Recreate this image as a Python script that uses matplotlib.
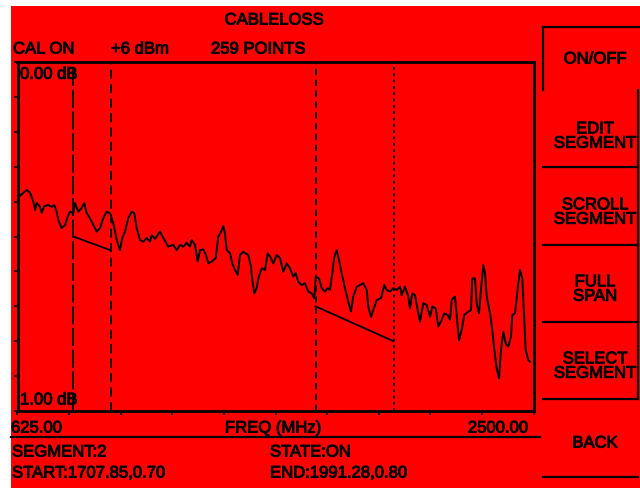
import matplotlib
matplotlib.use("Agg")
import matplotlib.pyplot as plt
from matplotlib.lines import Line2D
from matplotlib.patches import Rectangle
import matplotlib.patheffects as pe

plt.rcParams['font.family'] = ['Liberation Sans', 'DejaVu Sans']

# ---------------- data ----------------
freq_mhz = [627.9, 634.1, 646.1, 658.4, 670.4, 682.4, 688.6, 694.8, 706.8, 712.9,
            722.4, 736.9, 749.3, 758.7, 767.4, 773.3, 785.6, 797.6, 807.4, 815.8,
            827.8, 833.9, 845.9, 858.3, 867.7, 876.5, 884.8, 896.8, 912.8, 924.8,
            936.8, 949.1, 961.1, 973.1, 985.5, 997.5, 1005.8, 1015.6, 1027.6, 1040.0,
            1049.4, 1058.1, 1070.1, 1082.1, 1094.5, 1106.5, 1112.6, 1124.6, 1142.8, 1154.8,
            1173.0, 1191.1, 1203.5, 1215.5, 1227.5, 1239.8, 1251.8, 1258.0, 1270.0, 1279.8,
            1288.2, 1300.2, 1310.0, 1318.3, 1330.7, 1345.2, 1354.6, 1364.5, 1372.8, 1379.0,
            1385.2, 1397.2, 1405.5, 1415.3, 1425.2, 1433.5, 1445.5, 1463.7, 1473.5, 1478.2,
            1485.5, 1494.2, 1500.0, 1512.4, 1524.3, 1534.2, 1546.2, 1554.5, 1566.9, 1578.8,
            1590.8, 1603.2, 1615.2, 1627.2, 1635.9, 1645.4, 1657.7, 1669.7, 1681.7, 1694.0,
            1703.5, 1708.6, 1720.6, 1730.4, 1742.4, 1752.2, 1760.5, 1768.9, 1776.2, 1784.9,
            1793.2, 1803.0, 1815.0, 1827.0, 1836.8, 1845.2, 1857.6, 1869.5, 1881.5, 1893.9,
            1899.7, 1909.5, 1917.9, 1930.2, 1945.9, 1957.8, 1966.6, 1978.6, 1990.6, 2002.9,
            2014.9, 2021.1, 2033.1, 2045.1, 2051.2, 2059.6, 2069.4, 2079.2, 2087.6, 2099.6,
            2111.9, 2123.9, 2132.3, 2144.6, 2154.1, 2163.9, 2175.9, 2188.2, 2196.6, 2202.8,
            2214.7, 2220.9, 2229.3, 2239.1, 2248.5, 2263.1, 2272.9, 2277.6, 2287.4, 2293.6,
            2301.9, 2309.2, 2317.6, 2323.8, 2330.0, 2342.0, 2350.3, 2357.6, 2366.3, 2374.6,
            2381.9, 2390.3, 2399.0, 2408.4, 2418.2, 2423.0, 2432.8, 2444.8, 2450.9, 2459.3,
            2466.6, 2471.6, 2481.1, 2487.3]
loss_db = [0.369, 0.384, 0.375, 0.367, 0.374, 0.400, 0.424, 0.404, 0.415, 0.432,
           0.413, 0.410, 0.415, 0.410, 0.429, 0.453, 0.476, 0.467, 0.443, 0.429,
           0.433, 0.404, 0.429, 0.418, 0.404, 0.433, 0.443, 0.461, 0.486, 0.476,
           0.447, 0.429, 0.433, 0.461, 0.510, 0.539, 0.504, 0.486, 0.447, 0.429,
           0.433, 0.476, 0.510, 0.515, 0.504, 0.515, 0.496, 0.507, 0.486, 0.504,
           0.529, 0.524, 0.539, 0.524, 0.529, 0.518, 0.529, 0.510, 0.524, 0.572,
           0.539, 0.537, 0.553, 0.577, 0.572, 0.562, 0.501, 0.486, 0.470, 0.491,
           0.539, 0.548, 0.577, 0.596, 0.610, 0.553, 0.544, 0.553, 0.587, 0.625,
           0.663, 0.648, 0.620, 0.591, 0.596, 0.548, 0.562, 0.577, 0.553, 0.562,
           0.601, 0.577, 0.591, 0.615, 0.605, 0.630, 0.639, 0.634, 0.658, 0.663,
           0.677, 0.615, 0.620, 0.648, 0.658, 0.648, 0.653, 0.605, 0.558, 0.539,
           0.567, 0.605, 0.648, 0.687, 0.715, 0.672, 0.644, 0.639, 0.634, 0.653,
           0.701, 0.730, 0.711, 0.682, 0.677, 0.639, 0.653, 0.658, 0.648, 0.653,
           0.644, 0.668, 0.644, 0.672, 0.706, 0.663, 0.668, 0.711, 0.744, 0.691,
           0.696, 0.730, 0.701, 0.706, 0.758, 0.744, 0.720, 0.725, 0.739, 0.682,
           0.672, 0.725, 0.797, 0.768, 0.725, 0.715, 0.711, 0.620, 0.620, 0.691,
           0.720, 0.653, 0.582, 0.605, 0.672, 0.720, 0.768, 0.825, 0.878, 0.906,
           0.825, 0.773, 0.806, 0.816, 0.787, 0.725, 0.720, 0.634, 0.596, 0.620,
           0.739, 0.825, 0.854, 0.859]

# calibration segments: (start MHz, start dB, end MHz, end dB)
seg_start_mhz = [828.0, 1707.85]
seg_start_db = [0.50, 0.70]
seg_end_mhz = [965.0, 1991.28]
seg_end_db = [0.54, 0.80]

freq_min, freq_max = 625.0, 2500.0
db_top, db_bottom = 0.0, 1.0

buttons = ["ON/OFF", "EDIT\nSEGMENT", "SCROLL\nSEGMENT", "FULL\nSPAN", "SELECT\nSEGMENT", "BACK"]

# ---------------- figure ----------------
W, H = 640, 488
fig = plt.figure(figsize=(W / 100, H / 100), dpi=100, facecolor='white')
RED = '#ff0000'
bold_fx = [pe.withStroke(linewidth=0.7, foreground='black')]


def fx(px):
    return px / W


def fy(py):
    return 1 - py / H


fig.add_artist(Rectangle((fx(11), 0), 1 - fx(11), fy(6), transform=fig.transFigure,
                         facecolor=RED, edgecolor='none', zorder=0))


def hline(x0, x1, y, lw=1.6):
    fig.add_artist(Line2D([fx(x0), fx(x1)], [fy(y), fy(y)], color='black', lw=lw,
                          transform=fig.transFigure))


def vline(x, y0, y1, lw=1.6):
    fig.add_artist(Line2D([fx(x), fx(x)], [fy(y0), fy(y1)], color='black', lw=lw,
                          transform=fig.transFigure))


def ftext(x, y, s, ha='left', **kw):
    fig.text(fx(x), fy(y), s, fontsize=12, ha=ha, va='center', path_effects=bold_fx, **kw)


ax_l, ax_r, ax_t, ax_b = 17.5, 533.5, 62, 411
ax = fig.add_axes([fx(ax_l), fy(ax_b), fx(ax_r) - fx(ax_l), fy(ax_t) - fy(ax_b)])
ax.set_facecolor(RED)
ax.set_xlim(freq_min, freq_max)
ax.set_ylim(db_bottom, db_top)
for s in ax.spines.values():
    s.set_linewidth(2.0)
    s.set_color('black')
ax.set_xticks([freq_min + k * (freq_max - freq_min) / 10 for k in range(11)])
ax.set_yticks([k / 10 for k in range(11)])
ax.tick_params(axis='both', direction='out', length=3, width=1.2, color='black',
               labelbottom=False, labelleft=False)

# trace
ax.plot(freq_mhz, loss_db, color='black', lw=1.4, zorder=3)

# segment boundary markers
ax.axvline(seg_start_mhz[0], color='black', lw=1.3, dashes=(10, 2))
ax.axvline(seg_end_mhz[0], color='black', lw=1.3, dashes=(5, 3))
ax.axvline(seg_start_mhz[1], color='black', lw=1.3, dashes=(3.5, 2.5))
ax.axvline(seg_end_mhz[1], color='black', lw=1.3, dashes=(1.5, 2))
for i in range(len(seg_start_mhz)):
    ax.plot([seg_start_mhz[i], seg_end_mhz[i]], [seg_start_db[i], seg_end_db[i]],
            color='black', lw=1.3, zorder=3)

ax.text(0.005, 0.965, "0.00 dB", transform=ax.transAxes, fontsize=12, va='center',
        ha='left', path_effects=bold_fx)
ax.text(0.005, 0.032, "1.00 dB", transform=ax.transAxes, fontsize=12, va='center',
        ha='left', path_effects=bold_fx)

# header text
ftext(274, 20, "CABLELOSS", ha='center')
ftext(13, 49, "CAL ON")
ftext(111, 49, "+6 dBm")
ftext(211, 49, "259 POINTS")

# axis label row
ftext(11, 428, f"{freq_min:.2f}")
ftext(273, 428, "FREQ (MHz)", ha='center')
ftext(528, 428, f"{freq_max:.2f}", ha='right')
hline(11, 540, 437)

# status rows
ftext(12, 452, "SEGMENT:2")
ftext(270, 452, "STATE:ON")
ftext(12, 473, f"START:{seg_start_mhz[1]:.2f},{seg_start_db[1]:.2f}")
ftext(270, 473, f"END:{seg_end_mhz[1]:.2f},{seg_end_db[1]:.2f}")

# soft-key panel
hline(543, 640, 27)
vline(543, 27, 90)
for yy in [167, 245, 322, 399, 477]:
    hline(543, 638, yy)
vline(638, 90, 399)
btn_y = [59, 136, 212, 289, 366, 443]
for label, yy in zip(buttons, btn_y):
    ftext(595, yy, label, ha='center', linespacing=0.95)

fig.savefig("out.png", dpi=100, facecolor='white')
